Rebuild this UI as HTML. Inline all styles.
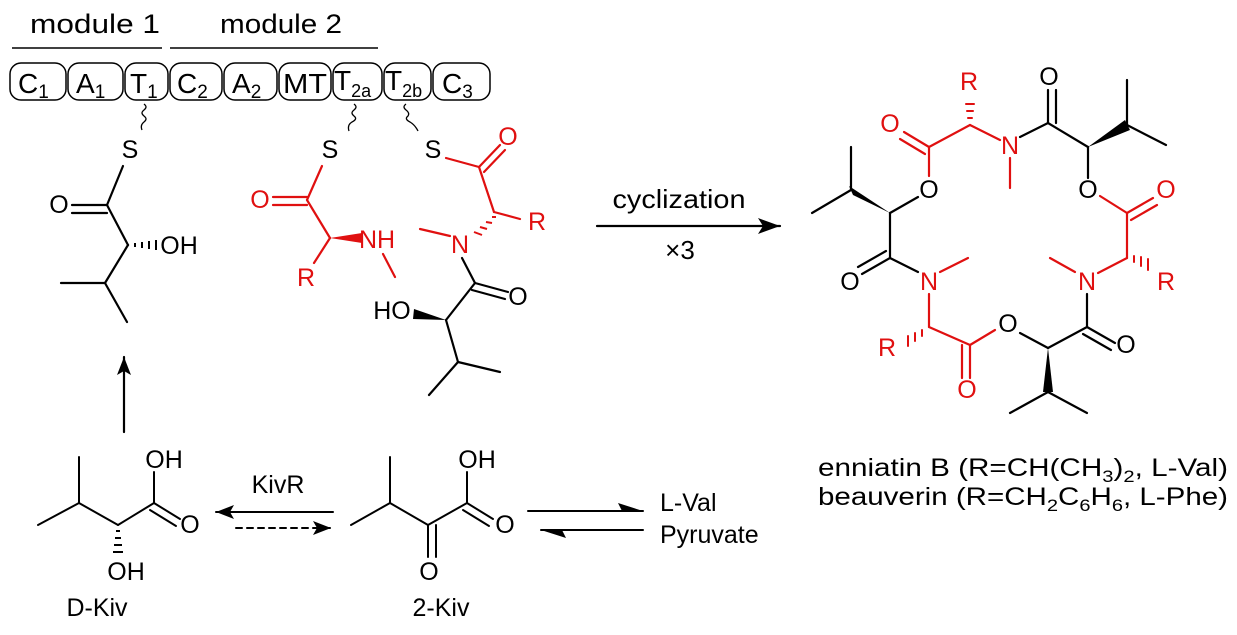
<!DOCTYPE html>
<html><head><meta charset="utf-8"><style>
html,body{margin:0;padding:0;background:#fff;}
svg{display:block;font-family:"Liberation Sans",Arial,sans-serif;}
</style></head><body>
<svg width="1237" height="635" viewBox="0 0 1237 635" xmlns="http://www.w3.org/2000/svg">
<defs>
<marker id="ah" markerWidth="24" markerHeight="16" refX="22" refY="8" orient="auto" markerUnits="userSpaceOnUse">
<path d="M0,0 L22,8 L0,16 L5,8 Z" fill="#000"/></marker>
<marker id="ah2" markerWidth="20" markerHeight="14" refX="18" refY="7" orient="auto" markerUnits="userSpaceOnUse">
<path d="M0,0 L18,7 L0,14 L4,7 Z" fill="#000"/></marker>
</defs>
<g font-size="27" fill="#000">
<text x="30" y="33" textLength="130" lengthAdjust="spacingAndGlyphs">module 1</text>
<text x="220" y="33" textLength="122" lengthAdjust="spacingAndGlyphs">module 2</text>
</g>
<g stroke="#000" stroke-width="1.5">
<line x1="12" y1="48" x2="162" y2="48"/><line x1="170" y1="48" x2="378" y2="48"/>
</g>
<g fill="#fff" stroke="#000" stroke-width="1.5">
<rect x="10" y="63" width="56" height="37" rx="11"/>
<rect x="68" y="63" width="55" height="37" rx="11"/>
<rect x="125" y="63" width="43" height="37" rx="11"/>
<rect x="170" y="63" width="52" height="37" rx="11"/>
<rect x="224" y="63" width="53" height="37" rx="11"/>
<rect x="279" y="63" width="52" height="37" rx="11"/>
<rect x="333" y="63" width="49" height="37" rx="11"/>
<rect x="384" y="63" width="47" height="37" rx="11"/>
<rect x="433" y="63" width="57" height="37" rx="11"/>
</g>
<g font-size="28" fill="#000">
<text x="18" y="93">C<tspan font-size="19" dy="5">1</tspan></text>
<text x="76" y="93">A<tspan font-size="19" dy="5">1</tspan></text>
<text x="130" y="93">T<tspan font-size="19" dy="5">1</tspan></text>
<text x="177" y="93">C<tspan font-size="19" dy="5">2</tspan></text>
<text x="232" y="93">A<tspan font-size="19" dy="5">2</tspan></text>
<text x="283" y="93" textLength="44" lengthAdjust="spacingAndGlyphs">MT</text>
<text x="334" y="90">T<tspan font-size="18" dy="7">2a</tspan></text>
<text x="385" y="90">T<tspan font-size="18" dy="7">2b</tspan></text>
<text x="442" y="93">C<tspan font-size="19" dy="5">3</tspan></text>
</g>
<g fill="none" stroke="#000" stroke-width="1.3">
<path d="M144,104 q4,3 0,6 q-4,3 0,6 q4,3 0,6 q-4,3 -2,8"/>
<path d="M354,104 q4,3 0,6 q-4,3 0,6 q4,3 -2,6 q-5,3 -3,9"/>
<path d="M406,104 q-4,3 0,6 q4,3 2,6 q-4,3 2,6 q5,3 8,9"/>
</g>
<g stroke-width="2.2" fill="none" stroke-linecap="round">
<g stroke="#000">
<line x1="123" y1="166" x2="107" y2="205"/>
<line x1="107" y1="205" x2="72" y2="205"/><line x1="107" y1="213" x2="72" y2="213"/>
<line x1="107" y1="205" x2="128" y2="245"/>
<line x1="128" y1="245" x2="105" y2="283"/>
<line x1="105" y1="283" x2="61" y2="283"/>
<line x1="105" y1="283" x2="127" y2="322"/>
<line x1="124" y1="432" x2="124" y2="357" marker-end="url(#ah2)"/>
</g>
<g stroke="#e01010">
<line x1="322" y1="166" x2="307" y2="200"/>
<line x1="307" y1="197" x2="273" y2="197"/><line x1="307" y1="205" x2="273" y2="205"/>
<line x1="307" y1="200" x2="330" y2="238"/>
<line x1="330" y1="238" x2="314" y2="263"/>
<line x1="383" y1="254" x2="395" y2="277"/>
<line x1="446" y1="158" x2="479" y2="167"/>
<line x1="479" y1="167" x2="500" y2="145"/><line x1="484" y1="172" x2="505" y2="150"/>
<line x1="479" y1="167" x2="494" y2="212"/>
<line x1="494" y1="212" x2="520" y2="219"/>
<line x1="450" y1="236" x2="420" y2="229"/>
</g>
<g stroke="#000">
<line x1="462" y1="258" x2="475" y2="283"/>
<line x1="475" y1="283" x2="508" y2="292"/><line x1="472" y1="290" x2="505" y2="299"/>
<line x1="475" y1="283" x2="446" y2="320"/>
<line x1="446" y1="320" x2="458" y2="362"/>
<line x1="458" y1="362" x2="500" y2="372"/>
<line x1="458" y1="362" x2="429" y2="395"/>
<line x1="597" y1="226" x2="780" y2="226" marker-end="url(#ah)"/>
</g>
</g>
<g stroke="#000" stroke-width="2">
<line x1="135" y1="243" x2="135" y2="247"/><line x1="142" y1="242" x2="142" y2="248"/><line x1="149" y1="241" x2="149" y2="249"/><line x1="156" y1="240" x2="156" y2="250"/>
</g>
<polygon points="330,238 362,233 362,243" fill="#e01010"/>
<g stroke="#e01010" stroke-width="2">
<line x1="492" y1="217" x2="496" y2="217"/><line x1="486" y1="222" x2="492" y2="223"/><line x1="480" y1="227" x2="487" y2="229"/><line x1="474" y1="232" x2="482" y2="235"/>
</g>
<polygon points="446,320 414,309 413,319" fill="#000"/>
<g font-size="25" text-anchor="middle" dominant-baseline="central">
<text x="130" y="150">S</text><text x="59" y="205">O</text><text x="179" y="246">OH</text>
<text x="330" y="150" fill="#000">S</text><text x="433" y="150">S</text>
<text x="260" y="200" fill="#e01010">O</text>
<text x="377" y="240" fill="#e01010">NH</text>
<text x="306" y="278" fill="#e01010">R</text>
<text x="508" y="137" fill="#e01010">O</text>
<text x="537" y="222" fill="#e01010">R</text>
<text x="460" y="245" fill="#e01010">N</text>
<text x="518" y="297">O</text>
<text x="392" y="311">HO</text>
</g>
<g font-size="26" text-anchor="middle">
<text x="679" y="208" textLength="133" lengthAdjust="spacingAndGlyphs">cyclization</text>
<text x="680" y="259">×3</text>
</g>
<g stroke-width="2.2" fill="none" stroke-linecap="round">
<g stroke="#e01010">
<line x1="929" y1="176" x2="929" y2="147"/>
<line x1="929" y1="147" x2="904" y2="132"/><line x1="925" y1="154" x2="900" y2="139"/>
<line x1="929" y1="147" x2="970" y2="125"/>
<line x1="970" y1="125" x2="1000" y2="140"/>
<line x1="1010" y1="158" x2="1010" y2="188"/>
<line x1="1100" y1="196" x2="1127" y2="213"/>
<line x1="1127" y1="213" x2="1153" y2="198"/><line x1="1131" y1="220" x2="1157" y2="205"/>
<line x1="1127" y1="213" x2="1127" y2="258"/>
<line x1="1127" y1="258" x2="1098" y2="273"/>
<line x1="1075" y1="272" x2="1050" y2="258"/>
<line x1="995" y1="330" x2="970" y2="345"/>
<line x1="970" y1="345" x2="970" y2="378"/><line x1="962" y1="345" x2="962" y2="378"/>
<line x1="970" y1="345" x2="929" y2="327"/>
<line x1="929" y1="327" x2="929" y2="294"/>
<line x1="940" y1="272" x2="968" y2="258"/>
</g>
<g stroke="#e01010" stroke-width="2">
<line x1="968" y1="118" x2="972" y2="118"/><line x1="967" y1="111" x2="973" y2="111"/><line x1="966" y1="104" x2="974" y2="104"/>
<line x1="1134" y1="262" x2="1134" y2="256"/><line x1="1141" y1="266" x2="1141" y2="257"/><line x1="1148" y1="270" x2="1148" y2="259"/>
<line x1="922" y1="330" x2="922" y2="336"/><line x1="915" y1="333" x2="915" y2="341"/><line x1="908" y1="336" x2="908" y2="346"/>
</g>
<g stroke="#000">
<line x1="1020" y1="137" x2="1048" y2="123"/>
<line x1="1048" y1="123" x2="1048" y2="90"/><line x1="1056" y1="123" x2="1056" y2="90"/>
<line x1="1048" y1="123" x2="1088" y2="147"/>
<line x1="1088" y1="147" x2="1088" y2="178"/>
<line x1="1127" y1="125" x2="1127" y2="80"/><line x1="1127" y1="125" x2="1166" y2="145"/>
<line x1="1087" y1="294" x2="1087" y2="327"/>
<line x1="1087" y1="327" x2="1115" y2="343"/><line x1="1083" y1="334" x2="1111" y2="350"/>
<line x1="1087" y1="327" x2="1048" y2="348"/>
<line x1="1048" y1="348" x2="1020" y2="333"/>
<line x1="1048" y1="392" x2="1010" y2="413"/><line x1="1048" y1="392" x2="1087" y2="413"/>
<line x1="918" y1="272" x2="890" y2="258"/>
<line x1="890" y1="258" x2="862" y2="274"/><line x1="886" y1="251" x2="858" y2="267"/>
<line x1="890" y1="258" x2="890" y2="213"/>
<line x1="890" y1="213" x2="918" y2="197"/>
<line x1="851" y1="190" x2="851" y2="147"/><line x1="851" y1="190" x2="812" y2="213"/>
</g>
</g>
<polygon points="1088,147 1125,120 1130,130" fill="#000"/>
<polygon points="1048,348 1043,392 1053,392" fill="#000"/>
<polygon points="890,213 849,186 853,195" fill="#000"/>
<g font-size="25" text-anchor="middle" dominant-baseline="central">
<text x="969" y="82" fill="#e01010">R</text>
<text x="890" y="124" fill="#e01010">O</text>
<text x="1010" y="146" fill="#e01010">N</text>
<text x="1049" y="77">O</text>
<text x="1088" y="190">O</text>
<text x="929" y="190">O</text>
<text x="1166" y="190" fill="#e01010">O</text>
<text x="1166" y="282" fill="#e01010">R</text>
<text x="1087" y="282" fill="#e01010">N</text>
<text x="929" y="282" fill="#e01010">N</text>
<text x="850" y="282">O</text>
<text x="1126" y="345">O</text>
<text x="1008" y="324">O</text>
<text x="887" y="348" fill="#e01010">R</text>
<text x="967" y="390" fill="#e01010">O</text>
</g>
<g font-size="25">
<text x="818" y="476" textLength="410" lengthAdjust="spacingAndGlyphs">enniatin B (R=CH(CH<tspan font-size="17" dy="6">3</tspan><tspan dy="-6">)</tspan><tspan font-size="17" dy="6">2</tspan><tspan dy="-6">, L-Val)</tspan></text>
<text x="818" y="505" textLength="410" lengthAdjust="spacingAndGlyphs">beauverin (R=CH<tspan font-size="17" dy="6">2</tspan><tspan dy="-6">C</tspan><tspan font-size="17" dy="6">6</tspan><tspan dy="-6">H</tspan><tspan font-size="17" dy="6">6</tspan><tspan dy="-6">, L-Phe)</tspan></text>
</g>
<g stroke="#000" stroke-width="2" fill="none" stroke-linecap="round">
<line x1="38" y1="525" x2="79" y2="503"/><line x1="79" y1="503" x2="79" y2="457"/><line x1="79" y1="503" x2="118" y2="525"/>
<line x1="118" y1="525" x2="154" y2="503"/><line x1="154" y1="503" x2="154" y2="472"/>
<line x1="154" y1="503" x2="180" y2="519"/><line x1="150" y1="510" x2="176" y2="526"/>
<line x1="351" y1="525" x2="390" y2="503"/><line x1="390" y1="503" x2="390" y2="457"/><line x1="390" y1="503" x2="428" y2="525"/>
<line x1="428" y1="525" x2="428" y2="557"/><line x1="436" y1="525" x2="436" y2="557"/>
<line x1="428" y1="525" x2="467" y2="503"/><line x1="467" y1="503" x2="467" y2="472"/>
<line x1="467" y1="503" x2="493" y2="519"/><line x1="463" y1="510" x2="489" y2="526"/>
<line x1="333" y1="512" x2="216" y2="512" marker-end="url(#ah2)"/>
<line x1="236" y1="528" x2="331" y2="528" stroke-dasharray="6,5" marker-end="url(#ah2)"/>
<line x1="528" y1="511" x2="643" y2="511"/>
<line x1="541" y1="530" x2="643" y2="530"/>
</g>
<path d="M643,511 L618,503 L622,511 Z" fill="#000"/>
<path d="M541,530 L566,538 L562,530 Z" fill="#000"/>
<g stroke="#000" stroke-width="2">
<line x1="116" y1="531" x2="120" y2="531"/><line x1="115" y1="538" x2="121" y2="538"/><line x1="114" y1="545" x2="122" y2="545"/><line x1="113" y1="552" x2="123" y2="552"/>
</g>
<g font-size="25" text-anchor="middle" dominant-baseline="central">
<text x="164" y="460">OH</text><text x="190" y="525">O</text><text x="126" y="572">OH</text>
<text x="477" y="460">OH</text><text x="505" y="525">O</text><text x="429" y="572">O</text>
<text x="278" y="485">KivR</text>
<text x="97" y="608">D-Kiv</text>
<text x="441" y="608">2-Kiv</text>
</g>
<g font-size="25">
<text x="660" y="511">L-Val</text>
<text x="660" y="543">Pyruvate</text>
</g>
</svg>
</body></html>
